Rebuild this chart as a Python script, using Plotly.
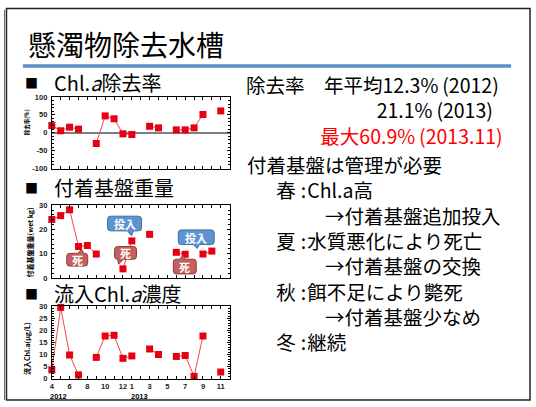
import plotly.graph_objects as go

# ---- data -------------------------------------------------------------
months = ["2012/4", "2012/5", "2012/6", "2012/7", "2012/8", "2012/9", "2012/10",
          "2012/11", "2012/12", "2013/1", "2013/2", "2013/3", "2013/4", "2013/5",
          "2013/6", "2013/7", "2013/8", "2013/9", "2013/10", "2013/11"]

# Chl.a removal rate (%)
removal_rate = [20, 5.5, 15.5, 10, None, -30, 47, 39, -3, -5, None, 18, 13.5,
                None, 8, 8, 13.5, 51, None, 60.9]

# attached substrate weight (wet kg)
substrate_kg = [24.1, 25.7, 28.1, 13.0, 13.4, 9.9, None, None, 3.8, 15.3, None,
                18.0, None, None, 10.6, 9.8, None, 9.9, 11.1, None]

# inflow Chl.a (ug/L)
inflow_chla = [3.6, 29.6, 9.8, 1.5, None, 8.8, 17.7, 18.0, 8.4, 9.4, None, 12.3,
               10.0, None, 9.2, 9.6, 0.9, 17.7, None, 2.7]

month_ticks = ["4", "", "6", "", "8", "", "10", "", "12", "1", "", "3", "", "5",
               "", "7", "", "9", "", "11", ""]

# ---- geometry helpers (pixel -> paper) ---------------------------------
W, H = 536, 407


def px(x):
    return x / W


def py(y):
    return 1 - y / H


JP = "Noto Sans CJK JP"
NARROW = "Liberation Sans Narrow, Liberation Sans, Arial"
RED = "#E60012"

x_idx = list(range(len(months)))

fig = go.Figure()

series = [(removal_rate, "x", "y"), (substrate_kg, "x2", "y2"), (inflow_chla, "x3", "y3")]
for vals, xa, ya in series:
    fig.add_trace(go.Scatter(
        x=x_idx, y=vals, xaxis=xa, yaxis=ya, mode="lines+markers",
        line=dict(color="#F0474A", width=1),
        marker=dict(symbol="square", size=7, color=RED),
        connectgaps=False, cliponaxis=False, hoverinfo="skip",
    ))

tickfont = dict(family=NARROW, size=7.5, color="#222", weight="bold")
x_left, x_right = 50, 228.5


def xaxis(labels):
    return dict(
        domain=[px(x_left), px(x_right)], range=[0, 20],
        showline=True, linecolor="#000", linewidth=1, mirror="ticks",
        ticks="inside", ticklen=3, tickwidth=1, tickcolor="#000",
        tickvals=list(range(21)), ticktext=month_ticks if labels else [""] * 21,
        showticklabels=labels, tickfont=tickfont, showgrid=False, zeroline=False,
        tickangle=0,
    )


def yaxis(top, bottom, rng, dtick, minor, zero=False):
    d = dict(
        domain=[py(bottom), py(top)], range=rng,
        showline=True, linecolor="#000", linewidth=1, mirror="ticks",
        ticks="inside", ticklen=3, tickwidth=1, tickcolor="#000",
        dtick=dtick, tick0=0, tickfont=tickfont, showgrid=False,
        minor=dict(dtick=minor, ticks="inside", ticklen=2, tickcolor="#000", showgrid=False),
        zeroline=zero, ticklabelstandoff=2,
    )
    if zero:
        d.update(zerolinecolor="#7F7F7F", zerolinewidth=2)
    return d


y1 = yaxis(95, 168.3, [-100, 100], 50, 10, zero=True)
y1.update(tickmode="array", tickvals=[-100, -50, 0, 50, 100],
          ticktext=["-100", "-50", "0", "50", "100"])

fig.update_layout(
    width=W, height=H, margin=dict(l=0, r=0, t=0, b=0),
    paper_bgcolor="white", plot_bgcolor="white", showlegend=False,
    xaxis=dict(xaxis(False), anchor="y"),
    yaxis=dict(y1, anchor="x"),
    xaxis2=dict(xaxis(False), anchor="y2"),
    yaxis2=dict(yaxis(205.7, 280.3, [0, 30], 10, 2), anchor="x2"),
    xaxis3=dict(xaxis(True), anchor="y3"),
    yaxis3=dict(yaxis(309.3, 383, [0, 30], 5, 1), anchor="x3"),
)

shapes = []
ann = []

# slide frame and title rule
shapes.append(dict(type="rect", xref="paper", yref="paper",
                   x0=px(4.5), x1=px(530), y0=py(4.5), y1=py(405),
                   line=dict(color="#222", width=1.5)))
shapes.append(dict(type="line", xref="paper", yref="paper",
                   x0=px(2.5), x1=px(2.5), y0=py(6), y1=py(405),
                   line=dict(color="#666", width=1)))
shapes.append(dict(type="line", xref="paper", yref="paper",
                   x0=px(21), x1=px(511), y0=py(63.5), y1=py(63.5),
                   line=dict(color="#5B8FC9", width=3.5)))


def text(x, y, s, size, color="#000", xanchor="left", family=JP, angle=0,
         bold=False, align="left"):
    ann.append(dict(xref="paper", yref="paper", x=px(x), y=py(y), text=s,
                    showarrow=False, xanchor=xanchor, yanchor="middle",
                    textangle=angle, borderpad=0, align=align,
                    font=dict(family=family, size=size, color=color,
                              weight="bold" if bold else "normal")))


text(25, 41, "懸濁物除去水槽", 28)

# section headings
for yy, s in [(80, "Chl.<i>a</i>除去率"), (188, "付着基盤重量"), (296, "流入Chl.<i>a</i>濃度")]:
    text(22, yy, "■", 13)
    text(51, yy, s, 20)

# y-axis titles
text(25, 121, "除去率(%)", 5.5, angle=-90, xanchor="center", bold=True)
text(28, 244, "付着基盤重量(wet kg)", 7, angle=-90, xanchor="center", bold=True)
text(25, 352, "流入Chl.a(μg/L)", 7, angle=-90, xanchor="center", bold=True)

# year labels under the month axis
text(57, 401, "2012", 7.5, family=NARROW, xanchor="center", bold=True)
text(138, 401, "2013", 7.5, family=NARROW, xanchor="center", bold=True)

# removal-rate summary (right-aligned block)
summary = "<br>".join([
    "除去率　年平均12.3%\u2009(2012)\u2009",
    "21.1%\u2009(2013)\u2002",
    "<span style='color:#FF0000'>最大60.9%\u2009(2013.11)</span>",
])
text(504, 108, summary, 19.5, xanchor="right", align="right")

# management notes (one block, indented with wide spaces)
IND1 = "\u3000\u2002"
IND2 = "\u3000\u3000\u3000\u3000"
notes = "<br>".join([
    "付着基盤は管理が必要",
    IND1 + "春\u2005:\u200aChl.a高",
    IND2 + "→付着基盤追加投入",
    IND1 + "夏\u2005:\u200a水質悪化により死亡",
    IND2 + "→付着基盤の交換",
    IND1 + "秋\u2005:\u200a餌不足により斃死",
    IND2 + "→付着基盤少なめ",
    IND1 + "冬\u2005:\u200a継続",
])
text(245, 254.5, notes, 19.5)


# callouts on the substrate chart
def callout(box, side, t0, t1, tip, label, fill, edge, r=3):
    x0, y0, x1, y1 = box
    pts = [f"M{px(x0 + r)},{py(y0)}"]
    if side == "top":
        pts += [f"L{px(t0)},{py(y0)}", f"L{px(tip[0])},{py(tip[1])}", f"L{px(t1)},{py(y0)}"]
    pts += [f"L{px(x1 - r)},{py(y0)}", f"Q{px(x1)},{py(y0)} {px(x1)},{py(y0 + r)}",
            f"L{px(x1)},{py(y1 - r)}", f"Q{px(x1)},{py(y1)} {px(x1 - r)},{py(y1)}"]
    if side == "bottom":
        pts += [f"L{px(t1)},{py(y1)}", f"L{px(tip[0])},{py(tip[1])}", f"L{px(t0)},{py(y1)}"]
    pts += [f"L{px(x0 + r)},{py(y1)}", f"Q{px(x0)},{py(y1)} {px(x0)},{py(y1 - r)}",
            f"L{px(x0)},{py(y0 + r)}", f"Q{px(x0)},{py(y0)} {px(x0 + r)},{py(y0)}", "Z"]
    shapes.append(dict(type="path", xref="paper", yref="paper", path=" ".join(pts),
                       fillcolor=fill, line=dict(color=edge, width=1), layer="above"))
    text((x0 + x1) / 2, (y0 + y1) / 2 + 0.5, label, 11, color="white",
         xanchor="center", bold=True)


BLUE, BLUE_EDGE = "#5F93CF", "#3F6E9E"
RED_BOX, RED_EDGE = "#C4605D", "#923B38"
callout((106, 217, 140, 232), "bottom", 126, 132, (130, 237), "投入", BLUE, BLUE_EDGE)
callout((65, 255, 86, 268), "top", 76, 82, (80, 251), "死", RED_BOX, RED_EDGE)
callout((113, 248, 135, 261), "bottom", 116, 122, (117, 266), "死", RED_BOX, RED_EDGE)
callout((177, 231, 213, 246), "bottom", 192, 198, (196, 250), "投入", BLUE, BLUE_EDGE)
callout((172, 261, 195, 276), "top", 178, 184, (182, 257), "死", RED_BOX, RED_EDGE)

fig.update_layout(shapes=shapes, annotations=ann)
fig.write_html("out.html")
